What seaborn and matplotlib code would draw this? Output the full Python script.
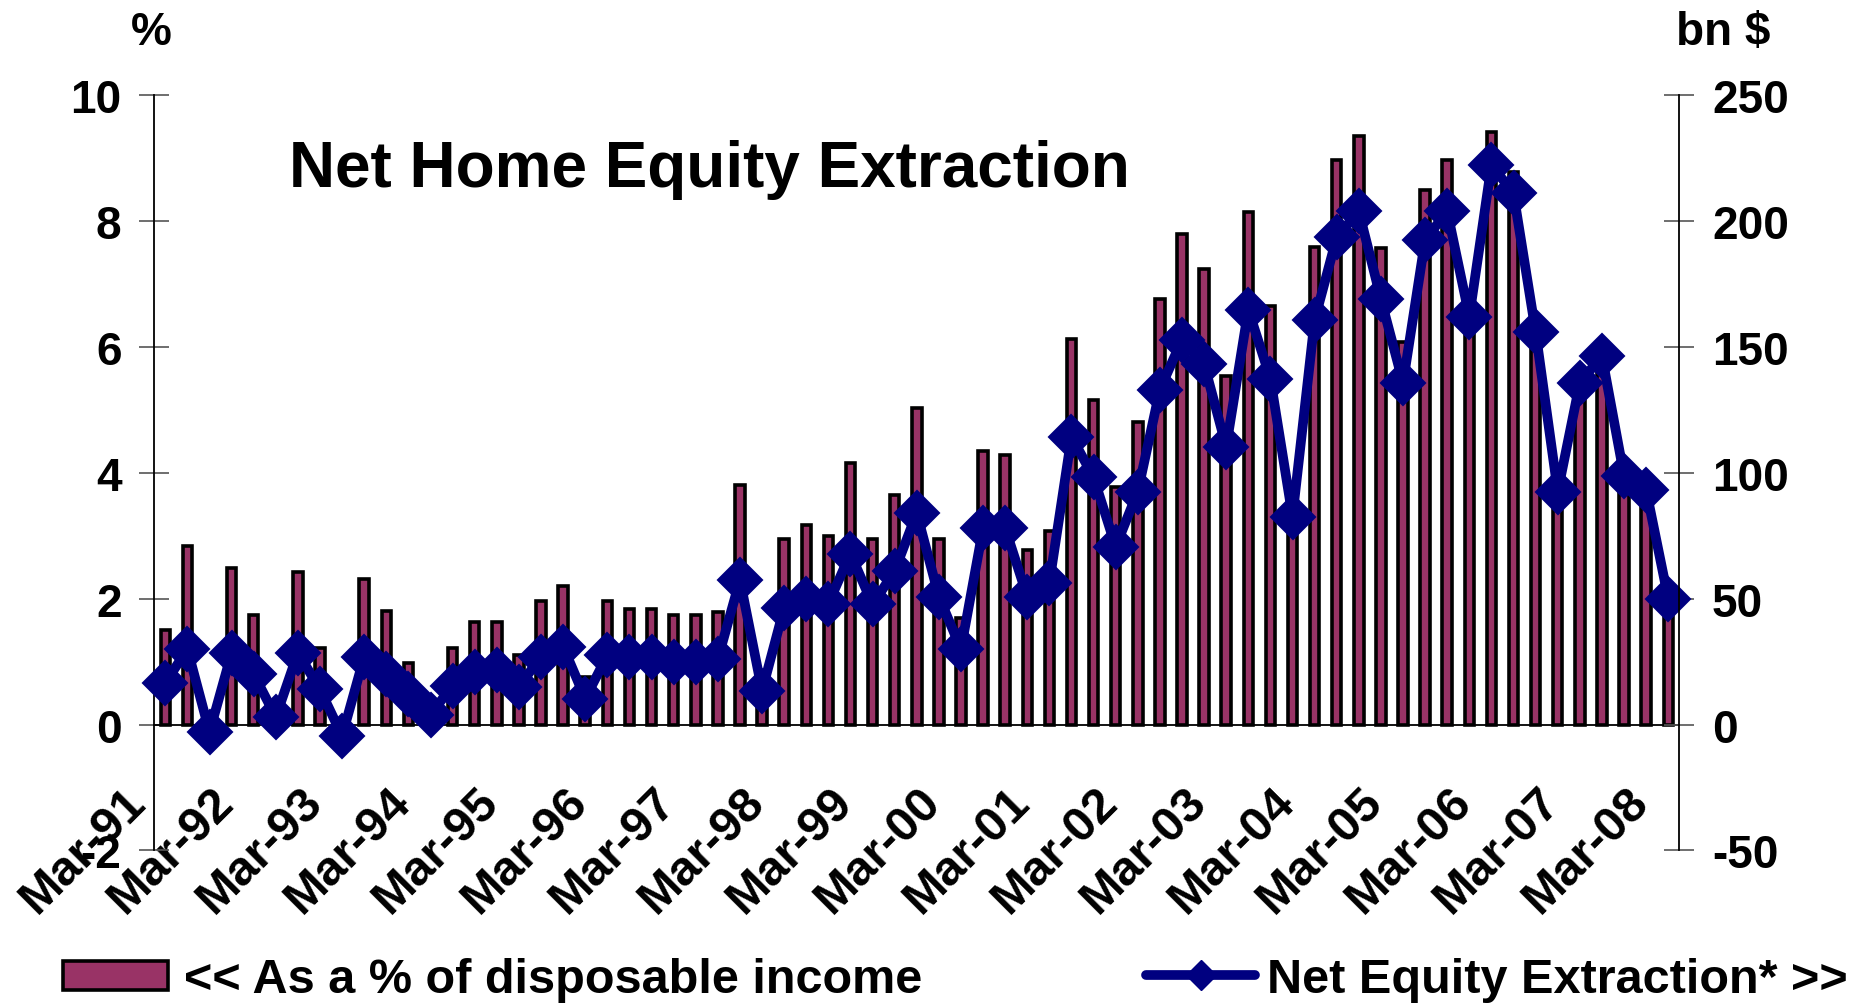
import numpy as np
import matplotlib
matplotlib.use("Agg")
import matplotlib.pyplot as plt
import matplotlib.patches as mpatches
import matplotlib.lines as mlines
import seaborn as sns

# quarterly data, Mar-91 .. Mar-08
pct_income = [1.51, 2.84, -0.2, 2.49, 1.74, 0.25, 2.43, 1.22, -0.2, 2.31,
              1.80, 0.98, 0.35, 1.22, 1.63, 1.63, 1.10, 1.97, 2.20, 0.75,
              1.96, 1.84, 1.84, 1.74, 1.74, 1.79, 3.81, 0.85, 2.94, 3.17,
              3.00, 4.15, 2.94, 3.64, 5.03, 2.95, 1.69, 4.34, 4.28, 2.78,
              3.07, 6.13, 5.15, 3.78, 4.81, 6.76, 7.79, 7.23, 5.54, 8.14,
              6.65, 3.10, 7.58, 8.96, 9.35, 7.57, 6.08, 8.49, 8.96, 6.40,
              9.41, 8.78, 6.10, 3.60, 5.30, 5.60, 3.80, 3.60, 1.90]
net_extraction = [16.5, 30, -3, 28.5, 20, 3, 28.5, 14, -4.5, 27,
                  20, 12, 4, 15.5, 21, 21.5, 15, 27, 31, 10.3,
                  27.5, 27, 27, 25, 25, 26, 57.5, 13.4, 46.4, 50,
                  48, 67.9, 47.7, 61, 84, 50.8, 30, 78, 78, 50.8,
                  56.4, 114.3, 98.2, 70.6, 92.5, 133, 152.8, 143.2, 110.3, 164.8,
                  137.3, 82.6, 160.6, 193.5, 203.8, 169, 135.7, 192.5, 203.8, 162,
                  222.2, 210.9, 156, 92.5, 135.7, 146.4, 98.9, 93.2, 50]
year_labels = ["Mar-91", "Mar-92", "Mar-93", "Mar-94", "Mar-95", "Mar-96",
               "Mar-97", "Mar-98", "Mar-99", "Mar-00", "Mar-01", "Mar-02",
               "Mar-03", "Mar-04", "Mar-05", "Mar-06", "Mar-07", "Mar-08"]

sns.set_style("white")
plt.rcParams['font.family'] = ['Liberation Sans', 'DejaVu Sans']
plt.rcParams['font.weight'] = 'bold'
plt.rcParams['text.color'] = 'black'
plt.rcParams['xtick.labelcolor'] = 'black'
plt.rcParams['ytick.labelcolor'] = 'black'
plt.rcParams['axes.unicode_minus'] = False

BAR = '#993366'
NAVY = '#000080'

n = len(pct_income)
idx = np.arange(n)

fig = plt.figure(figsize=(18.63, 10.04), dpi=100)
ax = fig.add_axes([0.0828, 0.1519, 0.8186, 0.7525])

sns.barplot(x=idx, y=pct_income, native_scale=True, width=0.43, color=BAR,
            saturation=1, edgecolor='black', linewidth=2.6, errorbar=None, ax=ax)

ax2 = ax.twinx()
sns.lineplot(x=idx, y=net_extraction, ax=ax2, color=NAVY, linewidth=7,
             marker='D', markersize=22, markeredgecolor=NAVY,
             markeredgewidth=1.5, clip_on=False)

ax.set_xlim(-0.5, n - 0.5)
ax.set_ylim(-2, 10)
ax.set_yticks(range(-2, 11, 2))
ax2.set_ylim(-50, 250)
ax2.set_yticks(range(-50, 251, 50))
ax.set_xlabel('')
ax.set_ylabel('')
ax2.set_xlabel('')
ax2.set_ylabel('')

for s in ['top', 'right']:
    ax.spines[s].set_visible(False)
for s in ['top', 'left', 'bottom']:
    ax2.spines[s].set_visible(False)
ax.spines['bottom'].set_position(('data', 0))
ax.spines['bottom'].set_color('black')
ax.spines['bottom'].set_linewidth(1.3)
ax.spines['left'].set_color('black')
ax.spines['left'].set_linewidth(1.3)
ax2.spines['right'].set_color('black')
ax2.spines['right'].set_linewidth(1.3)

ax.set_xticks(np.arange(-0.5, n - 1, 4))
ax.set_xticklabels(year_labels, rotation=45, ha='right', va='bottom',
                   rotation_mode='anchor', fontsize=35, fontweight='bold')
ax.tick_params(axis='x', direction='inout', length=20, width=1.2,
               color='#666666', pad=52)
ax.tick_params(axis='y', direction='inout', length=21, width=1.2,
               color='#555555', labelsize=33, pad=13)
ax2.tick_params(axis='y', direction='inout', length=21, width=1.2,
                color='#555555', labelsize=33, pad=13)

fig.text(289 / 1863, 1 - 170 / 1004, 'Net Home Equity Extraction',
         fontsize=46, fontweight='bold', va='center', ha='left')
fig.text(151 / 1863, 1 - 33 / 1004, '%', fontsize=33, fontweight='bold',
         ha='center', va='center')
fig.text(1723 / 1863, 1 - 33 / 1004, 'bn $', fontsize=33, fontweight='bold',
         ha='center', va='center')

bar_handle = mpatches.Patch(facecolor=BAR, edgecolor='black', linewidth=2.6)
line_handle = mlines.Line2D([], [], color=NAVY, linewidth=7, marker='D',
                            markersize=15, solid_capstyle='round')
fig.legend([bar_handle], ['<< As a % of disposable income'],
           loc='center left', bbox_to_anchor=(63 / 1863, 1 - 981 / 1004),
           frameon=False, borderpad=0, borderaxespad=0, fontsize=35,
           handlelength=2.16, handleheight=0.55, handletextpad=0.33)
fig.legend([line_handle], ['Net Equity Extraction* >>'],
           loc='center right', bbox_to_anchor=(1848 / 1863, 1 - 981 / 1004),
           frameon=False, borderpad=0, borderaxespad=0, fontsize=35,
           handlelength=2.24, handletextpad=0.25)

fig.savefig('out.png', dpi=100)
